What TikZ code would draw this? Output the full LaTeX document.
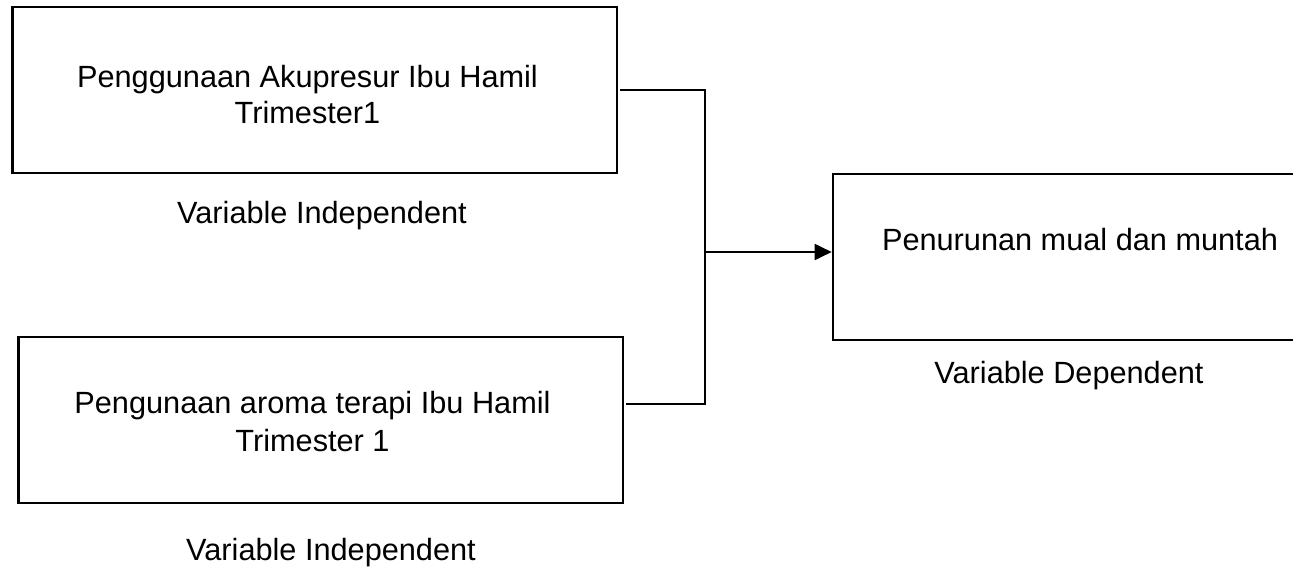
\documentclass[tikz,border=0pt]{standalone}
\usepackage{fontspec}
\setmainfont{Liberation Sans}
\usetikzlibrary{arrows.meta}
\tikzset{
  boxnode/.style={draw=black, line width=2.6pt, rectangle, inner sep=0pt},
  lbl/.style={anchor=base, inner sep=0pt, font=\fontsize{30.7}{37}\selectfont, align=center},
  conn/.style={draw=black, line width=1.8pt},
}
\begin{document}
\begin{tikzpicture}[x=1pt,y=-1pt]
\clip (0,0) rectangle (1293,576);
\fill[white] (0,0) rectangle (1293,576);
% boxes
\node[boxnode, minimum width=604.5pt, minimum height=166pt] (b1) at (314.75,90) {};
\node[boxnode, minimum width=604.5pt, minimum height=166pt] (b2) at (320.75,420) {};
\node[boxnode, minimum width=480pt, minimum height=166pt] (b3) at (1073,257) {};
% texts
\node[lbl] (t1a) at (307.5,87) {Penggunaan Akupresur Ibu Hamil};
\node[lbl] (t1b) at (307.5,123.5) {Trimester1};
\node[lbl] (v1) at (322,223.5) {Variable Independent};
\node[lbl] (t2a) at (312.5,413.5) {Pengunaan aroma terapi Ibu Hamil};
\node[lbl] (t2b) at (312.5,451.5) {Trimester 1};
\node[lbl] (v2) at (331,560.5) {Variable Independent};
\node[lbl] (t3) at (1080,250.5) {Penurunan mual dan muntah};
\node[lbl] (v3) at (1069,383.5) {Variable Dependent};
% connectors
\coordinate (j) at (705,252);
\draw[conn] ([xshift=2pt]b1.east) -| (j);
\draw[conn] ([xshift=2pt,yshift=16pt]b2.east) -| (j);
\draw[conn, -{Triangle[length=17pt,width=16pt]}] (j) -- ([yshift=5pt]b3.west);
\end{tikzpicture}
\end{document}
